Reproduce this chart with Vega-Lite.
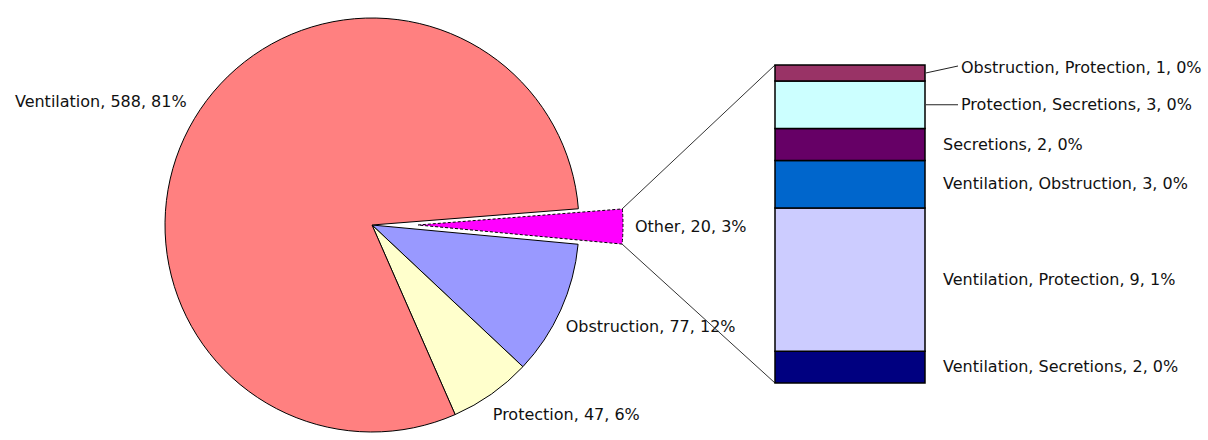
{
  "$schema": "https://vega.github.io/schema/vega-lite/v6.json",
  "width": 1208,
  "height": 440,
  "autosize": {"type": "none"},
  "padding": 0,
  "background": "white",
  "config": {
    "view": {"stroke": null},
    "text": {"font": "DejaVu Sans", "fontSize": 16, "color": "#111111"}
  },
  "datasets": {
    "pie": [
      {"cat": "Other", "n": 20, "label": "Other, 20, 3%", "idx": 1},
      {"cat": "Obstruction", "n": 77, "label": "Obstruction, 77, 12%", "idx": 2},
      {"cat": "Protection", "n": 47, "label": "Protection, 47, 6%", "idx": 3},
      {"cat": "Ventilation", "n": 588, "label": "Ventilation, 588, 81%", "idx": 4}
    ],
    "bar": [
      {"cat": "Ventilation, Secretions", "n": 2, "label": "Ventilation, Secretions, 2, 0%", "idx": 1},
      {"cat": "Ventilation, Protection", "n": 9, "label": "Ventilation, Protection, 9, 1%", "idx": 2},
      {"cat": "Ventilation, Obstruction", "n": 3, "label": "Ventilation, Obstruction, 3, 0%", "idx": 3},
      {"cat": "Secretions", "n": 2, "label": "Secretions, 2, 0%", "idx": 4},
      {"cat": "Protection, Secretions", "n": 3, "label": "Protection, Secretions, 3, 0%", "idx": 5},
      {"cat": "Obstruction, Protection", "n": 1, "label": "Obstruction, Protection, 1, 0%", "idx": 6}
    ]
  },
  "layer": [
    {
      "data": {"name": "pie"},
      "transform": [
        {"stack": "n", "groupby": [], "sort": [{"field": "idx"}], "as": ["t0", "t1"]},
        {"filter": "datum.cat != 'Other'"}
      ],
      "mark": {"type": "arc", "x": 372, "y": 225, "radius": 207, "stroke": "#000000", "strokeWidth": 1},
      "encoding": {
        "theta": {"field": "t0", "type": "quantitative", "stack": null, "scale": {"domain": [0, 732], "range": [1.4923, 7.7755], "nice": false, "zero": true}},
        "theta2": {"field": "t1"},
        "color": {
          "field": "cat", "type": "nominal", "legend": null,
          "scale": {
            "domain": ["Ventilation", "Obstruction", "Protection", "Other", "Obstruction, Protection", "Protection, Secretions", "Secretions", "Ventilation, Obstruction", "Ventilation, Protection", "Ventilation, Secretions"],
            "range": ["#FF8080", "#9999FF", "#FFFFCC", "#FF00FF", "#993366", "#CCFFFF", "#660066", "#0066CC", "#CCCCFF", "#000080"]
          }
        }
      }
    },
    {
      "data": {"name": "pie"},
      "transform": [
        {"stack": "n", "groupby": [], "sort": [{"field": "idx"}], "as": ["t0", "t1"]},
        {"filter": "datum.cat == 'Other'"}
      ],
      "mark": {"type": "arc", "x": 418, "y": 225, "radius": 205, "stroke": "#000000", "strokeWidth": 1, "strokeDash": [3, 2]},
      "encoding": {
        "theta": {"field": "t0", "type": "quantitative", "stack": null},
        "theta2": {"field": "t1"},
        "color": {"field": "cat", "type": "nominal", "legend": null}
      }
    },
    {
      "data": {"name": "pie"},
      "transform": [
        {"stack": "n", "groupby": [], "sort": [{"field": "idx"}], "as": ["t0", "t1"]},
        {"calculate": "(datum.t0 + datum.t1) / 2", "as": "tm"},
        {"filter": "datum.cat == 'Ventilation'"}
      ],
      "mark": {"type": "text", "x": 372, "y": 225, "radius": 216, "align": "right", "baseline": "bottom", "dy": -4},
      "encoding": {
        "theta": {"field": "tm", "type": "quantitative", "stack": null},
        "text": {"field": "label"}
      }
    },
    {
      "data": {"name": "pie"},
      "transform": [
        {"stack": "n", "groupby": [], "sort": [{"field": "idx"}], "as": ["t0", "t1"]},
        {"calculate": "(datum.t0 + datum.t1) / 2", "as": "tm"},
        {"filter": "datum.cat == 'Obstruction' || datum.cat == 'Protection'"}
      ],
      "mark": {"type": "text", "x": 372, "y": 225, "radius": 218, "align": "left", "baseline": "top", "dx": -5, "dy": 4},
      "encoding": {
        "theta": {"field": "tm", "type": "quantitative", "stack": null},
        "text": {"field": "label"}
      }
    },
    {
      "data": {"name": "pie"},
      "transform": [
        {"stack": "n", "groupby": [], "sort": [{"field": "idx"}], "as": ["t0", "t1"]},
        {"calculate": "(datum.t0 + datum.t1) / 2", "as": "tm"},
        {"filter": "datum.cat == 'Other'"}
      ],
      "mark": {"type": "text", "x": 418, "y": 225, "radius": 217, "align": "left", "baseline": "middle"},
      "encoding": {
        "theta": {"field": "tm", "type": "quantitative", "stack": null},
        "text": {"field": "label"}
      }
    },
    {
      "data": {"values": [{}]},
      "mark": {"type": "rule", "color": "#333333", "strokeWidth": 1},
      "encoding": {
        "x": {"value": 622},
        "y": {"value": 209},
        "x2": {"value": 775},
        "y2": {"value": 65}
      }
    },
    {
      "data": {"values": [{}]},
      "mark": {"type": "rule", "color": "#333333", "strokeWidth": 1},
      "encoding": {
        "x": {"value": 622},
        "y": {"value": 244},
        "x2": {"value": 775},
        "y2": {"value": 383}
      }
    },
    {
      "data": {"name": "bar"},
      "transform": [
        {"stack": "n", "groupby": [], "sort": [{"field": "idx"}], "as": ["y0", "y1"]}
      ],
      "mark": {"type": "rect", "stroke": "#000000", "strokeWidth": 1.5},
      "encoding": {
        "x": {"value": 775},
        "x2": {"value": 925},
        "y": {"field": "y0", "type": "quantitative", "axis": null, "scale": {"domain": [0, 20], "range": [383, 65], "nice": false, "zero": true}},
        "y2": {"field": "y1"},
        "color": {"field": "cat", "type": "nominal", "legend": null}
      }
    },
    {
      "data": {"name": "bar"},
      "transform": [
        {"stack": "n", "groupby": [], "sort": [{"field": "idx"}], "as": ["y0", "y1"]},
        {"calculate": "(datum.y0 + datum.y1) / 2", "as": "ym"},
        {"filter": "datum.idx <= 4"}
      ],
      "mark": {"type": "text", "align": "left", "baseline": "middle"},
      "encoding": {
        "x": {"value": 943},
        "y": {"field": "ym", "type": "quantitative"},
        "text": {"field": "label"}
      }
    },
    {
      "data": {"name": "bar"},
      "transform": [
        {"stack": "n", "groupby": [], "sort": [{"field": "idx"}], "as": ["y0", "y1"]},
        {"calculate": "(datum.y0 + datum.y1) / 2", "as": "ym"},
        {"filter": "datum.idx == 5"}
      ],
      "mark": {"type": "text", "align": "left", "baseline": "middle"},
      "encoding": {
        "x": {"value": 961},
        "y": {"field": "ym", "type": "quantitative"},
        "text": {"field": "label"}
      }
    },
    {
      "data": {"name": "bar"},
      "transform": [
        {"stack": "n", "groupby": [], "sort": [{"field": "idx"}], "as": ["y0", "y1"]},
        {"calculate": "(datum.y0 + datum.y1) / 2", "as": "ym"},
        {"filter": "datum.idx == 6"}
      ],
      "mark": {"type": "text", "align": "left", "baseline": "middle", "dy": -5},
      "encoding": {
        "x": {"value": 961},
        "y": {"field": "ym", "type": "quantitative"},
        "text": {"field": "label"}
      }
    },
    {
      "data": {"name": "bar"},
      "transform": [
        {"stack": "n", "groupby": [], "sort": [{"field": "idx"}], "as": ["y0", "y1"]},
        {"calculate": "(datum.y0 + datum.y1) / 2", "as": "ym"},
        {"filter": "datum.idx == 5"}
      ],
      "mark": {"type": "rule", "color": "#222222", "strokeWidth": 1},
      "encoding": {
        "x": {"value": 926},
        "x2": {"value": 958},
        "y": {"field": "ym", "type": "quantitative"},
        "y2": {"field": "ym"}
      }
    },
    {
      "data": {"name": "bar"},
      "transform": [
        {"stack": "n", "groupby": [], "sort": [{"field": "idx"}], "as": ["y0", "y1"]},
        {"calculate": "(datum.y0 + datum.y1) / 2", "as": "ym"},
        {"filter": "datum.idx == 6"}
      ],
      "mark": {"type": "rule", "color": "#222222", "strokeWidth": 1},
      "encoding": {
        "x": {"value": 926},
        "x2": {"value": 958},
        "y": {"field": "ym", "type": "quantitative"},
        "y2": {"value": 66}
      }
    }
  ]
}
